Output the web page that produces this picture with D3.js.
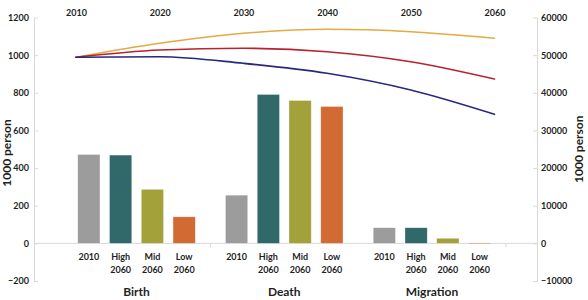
<!DOCTYPE html>
<html>
<head>
<meta charset="utf-8">
<script src="https://cdn.jsdelivr.net/npm/d3@7"></script>
<style>
  body { margin: 0; background: #fff; }
  svg text { font-family: Lato, "Open Sans", sans-serif; font-weight: bold; fill: #1f1f1f; }
</style>
</head>
<body>
<svg id="chart" width="588" height="300"></svg>
<script>
// 1] Data ------------------------------------------//
const groups = ['Birth', 'Death', 'Migration']
const cats = ['2010', 'High 2060', 'Mid 2060', 'Low 2060']
const catColors = ['#9c9c9c', '#31696a', '#a3a23a', '#d26a34']

// bar values, 1000 person (left axis)
const birth = [472, 469, 287, 141]
const death = [256, 791, 759, 727]
const migration = [83, 83, 27, 1]

// population lines, 1000 person (right axis)
const years = [2010, 2020, 2030, 2040, 2050, 2060]
const popHigh = [49430, 53150, 55800, 56870, 56230, 54480]
const popMid = [49430, 51370, 51820, 50920, 48260, 43660]
const popLow = [49430, 49590, 47830, 45180, 40740, 34280]
const lineColors = ['#e2ab45', '#b9222f', '#27287f']

const leftTicks = [-200, 0, 200, 400, 600, 800, 1000, 1200]
const rightTicks = [-10000, 0, 10000, 20000, 30000, 40000, 50000, 60000]

const barData = [birth, death, migration]
const lineData = [popHigh, popMid, popLow]

// 2] Scales ----------------------------------------//
const svg = d3.select('#chart')

const yLeft = d3.scaleLinear().domain([-200, 1200]).range([281, 17.5])
const yRight = d3.scaleLinear().domain([-10000, 60000]).range([281, 17.5])

const xGroup = d3.scaleBand().domain(groups).range([73, 495.5]).paddingInner(0.14)
const xCat = d3.scaleBand().domain(cats).range([0, xGroup.bandwidth()])
                .paddingInner(0.3).paddingOuter(0.15)
const xYear = d3.scaleLinear().domain([2010, 2060]).range([76, 494.5])

const axisColor = '#d9d9d9'

// 3] Axes ------------------------------------------//
const leftAxis = svg.append('g')
    .attr('transform', 'translate(34,0)')
    .call(d3.axisLeft(yLeft).tickValues(leftTicks).tickFormat(d3.format('d'))
            .tickSizeInner(-4).tickSizeOuter(0).tickPadding(5))
const rightAxis = svg.append('g')
    .attr('transform', 'translate(537,0)')
    .call(d3.axisRight(yRight).tickValues(rightTicks).tickFormat(d3.format('d'))
            .tickSizeInner(-4).tickSizeOuter(0).tickPadding(4))
const topAxis = svg.append('g')
    .attr('transform', 'translate(0,19)')
    .call(d3.axisTop(xYear).tickValues(years).tickFormat(d3.format('d')).tickSize(0).tickPadding(3))
topAxis.select('.domain').remove()

for (const ax of [leftAxis, rightAxis, topAxis]) {
  ax.selectAll('path, line').attr('stroke', axisColor)
  ax.selectAll('text').attr('font-size', 9).attr('font-family', null)
}

// zero line with ticks between groups
svg.append('line')
    .attr('x1', 34).attr('x2', 537)
    .attr('y1', yLeft(0)).attr('y2', yLeft(0))
    .attr('stroke', axisColor)
const gapHalf = (xGroup.step() - xGroup.bandwidth()) / 2
svg.selectAll('.xtick')
    .data([xGroup('Death') - gapHalf, xGroup('Migration') + xGroup.bandwidth() + gapHalf])
    .join('line')
    .attr('class', 'xtick')
    .attr('x1', d => d).attr('x2', d => d)
    .attr('y1', yLeft(0)).attr('y2', yLeft(0) + 4)
    .attr('stroke', axisColor)

// axis titles
svg.append('text')
    .attr('transform', `translate(11,${yLeft(480)}) rotate(-90)`)
    .attr('text-anchor', 'middle').attr('font-size', 12)
    .text('1000 person')
svg.append('text')
    .attr('transform', `translate(583,${yLeft(500)}) rotate(-90)`)
    .attr('text-anchor', 'middle').attr('font-size', 12)
    .text('1000 person')

// 4] Bars ------------------------------------------//
groups.forEach((g, gi) => {
  const gx = xGroup(g)
  const grp = svg.append('g').attr('transform', `translate(${gx},0)`)

  grp.selectAll('rect')
      .data(barData[gi])
      .join('rect')
      .attr('x', (d, i) => xCat(cats[i]))
      .attr('width', xCat.bandwidth())
      .attr('y', d => yLeft(Math.max(d, 0)))
      .attr('height', d => Math.max(Math.abs(yLeft(d) - yLeft(0)), 0.8))
      .attr('fill', (d, i) => catColors[i])
      .attr('stroke', 'rgba(255,255,255,0.5)')
      .attr('stroke-width', 0.6)

  // category labels (two lines)
  grp.selectAll('text.cat')
      .data(cats)
      .join('text')
      .attr('class', 'cat')
      .attr('text-anchor', 'middle')
      .attr('font-size', 9)
      .attr('x', d => xCat(d) + xCat.bandwidth() / 2)
      .attr('y', 259.5)
      .each(function (d) {
        const parts = d.split(' ')
        d3.select(this).selectAll('tspan')
          .data(parts)
          .join('tspan')
          .attr('x', xCat(d) + xCat.bandwidth() / 2)
          .attr('dy', (p, i) => i === 0 ? 0 : 13.5)
          .text(p => p)
      })

  grp.append('text')
      .attr('x', xGroup.bandwidth() / 2)
      .attr('y', 295.5)
      .attr('text-anchor', 'middle')
      .attr('font-size', 12)
      .text(g)
})

// 5] Lines -----------------------------------------//
const line = d3.line()
    .x((d, i) => xYear(years[i]))
    .y(d => yRight(d))
    .curve(d3.curveMonotoneX)

svg.selectAll('path.pop')
    .data(lineData)
    .join('path')
    .attr('class', 'pop')
    .attr('d', d => line(d))
    .attr('fill', 'none')
    .attr('stroke', (d, i) => lineColors[i])
    .attr('stroke-width', 1.6)
    .style('stroke-linecap', 'round')
</script>
</body>
</html>
